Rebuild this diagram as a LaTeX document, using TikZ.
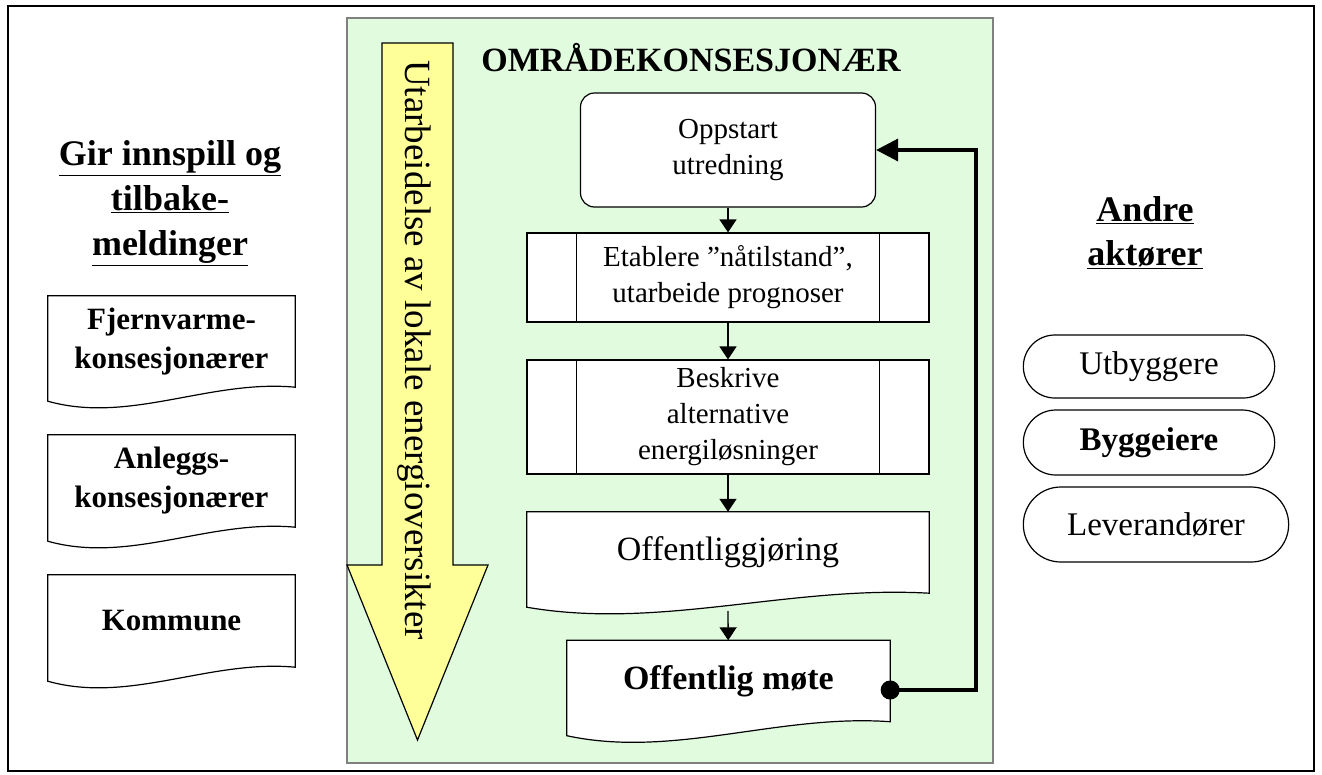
\documentclass[tikz,border=0pt]{standalone}
\usepackage{fontspec}
\setmainfont{Liberation Serif}
\usetikzlibrary{arrows.meta,calc,shapes.misc}

\definecolor{panelgreen}{HTML}{E1FBDF}
\definecolor{arrowyellow}{HTML}{FFFF99}

\pgfdeclarelayer{back}
\pgfdeclarelayer{mid}
\pgfsetlayers{back,mid,main}

% outline of a document shape round a named node
\newcommand{\docwave}[1]{%
  \begin{pgfonlayer}{mid}
    \draw[docline] (#1.south east) -- (#1.north east) -- (#1.north west) -- ($(#1.south west)+(0,14)$)
      .. controls ($(#1.south west)!0.33!(#1.south east)+(0,37)$) and ($(#1.south west)!0.654!(#1.south east)+(0,-8)$) .. cycle;
  \end{pgfonlayer}}

\begin{document}
\begin{tikzpicture}[x=1pt, y=-1pt,
    startbox/.style={rectangle, draw, fill=white, line width=1.2pt, rounded corners=14pt, minimum width=295pt, minimum height=114pt, align=center, font=\fontsize{29}{36}\selectfont},
    procbox/.style={rectangle, draw, fill=white, line width=1.2pt, minimum width=402pt, align=center, font=\fontsize{29}{36}\selectfont},
    docbox/.style={rectangle, inner sep=0pt, align=center},
    docline/.style={draw, fill=white, line width=1.2pt},
    actor/.style={rounded rectangle, draw, fill=white, line width=1.2pt, minimum width=258pt, font=\fontsize{33}{40}\selectfont},
    heading/.style={align=center, font=\bfseries\fontsize{36}{45}\selectfont},
    flow/.style={-{Triangle[width=17pt,length=13pt]}, line width=1.3pt},
    feedback/.style={{Circle[length=19pt]}-{Triangle[width=22pt,length=22pt]}, line width=3.5pt, shorten <=-9.5pt}
]
    \useasboundingbox (0,0) rectangle (1322,774);
    \draw[line width=2pt] (8,6) rectangle (1314,771);

    % Green panel and yellow arrow
    \begin{pgfonlayer}{back}
        \draw[fill=panelgreen, draw=gray, line width=1.2pt] (347,18) rectangle (993,763);
        \draw[fill=arrowyellow, line width=1.2pt] (382,43) -- (453,43) -- (453,565) -- (488,565)
            -- (417.5,740) -- (347,565) -- (382,565) -- cycle;
    \end{pgfonlayer}
    \node[rotate=-90, font=\fontsize{37}{40}\selectfont] (overview) at (414,350) {Utarbeidelse av lokale energioversikter};
    \node[font=\bfseries\fontsize{34}{40}\selectfont] (title) at (691,58) {OMRÅDEKONSESJONÆR};

    % Flow chart
    \node[startbox] (oppstart) at (728,150) {Oppstart\\utredning};
    \node[procbox, minimum height=89pt] (etablere) at (728,277.5) {Etablere ”nåtilstand”,\\utarbeide prognoser};
    \node[procbox, minimum height=114pt] (beskrive) at (728,417) {Beskrive\\alternative\\energiløsninger};
    \node[docbox, minimum width=402pt, minimum height=81pt, font=\fontsize{34}{40}\selectfont] (offentlig) at (728,552.5) {Offentliggjøring};
    \node[docbox, minimum width=323pt, minimum height=81pt, font=\bfseries\fontsize{34}{40}\selectfont] (mote) at (728.5,681) {Offentlig møte};
    \docwave{offentlig}
    \docwave{mote}
    \foreach \n in {etablere, beskrive} {
        \draw[line width=1.2pt] ([xshift=50pt]\n.north west) -- ([xshift=50pt]\n.south west);
        \draw[line width=1.2pt] ([xshift=-50pt]\n.north east) -- ([xshift=-50pt]\n.south east);
    }

    \draw[flow] (oppstart) -- (etablere);
    \draw[flow] (etablere) -- (beskrive);
    \draw[flow] (beskrive) -- (offentlig);
    \draw[flow] ($(offentlig.south)+(0,18)$) -- (mote);
    \draw[feedback] ([yshift=-9pt]mote.east) -| ($(oppstart.east)+(100,0)$) -- (oppstart.east);

    % Left column
    \node[heading] (innspill) at (170,203) {\underline{Gir innspill og}\\\underline{tilbake-}\\\underline{meldinger}};
    \node[docbox, minimum width=247pt, minimum height=91pt, font=\bfseries\fontsize{31}{39}\selectfont] (fjern) at (171.5,341.5) {Fjernvarme-\\konsesjonærer};
    \node[docbox, minimum width=247pt, minimum height=92pt, font=\bfseries\fontsize{31}{39}\selectfont] (anlegg) at (171.5,481) {Anleggs-\\konsesjonærer};
    \node[docbox, minimum width=247pt, minimum height=92pt, font=\bfseries\fontsize{31}{39}\selectfont] (kommune) at (171.5,621) {Kommune};
    \docwave{fjern}
    \docwave{anlegg}
    \docwave{kommune}

    % Right column
    \node[heading, font=\bfseries\fontsize{36}{44}\selectfont] (andre) at (1145,233) {\underline{Andre}\\\underline{aktører}};
    \node[actor, minimum height=63pt] (utbyggere) at (1149,366.5) {Utbyggere};
    \node[actor, minimum height=65pt, font=\bfseries\fontsize{33}{40}\selectfont] (byggeiere) at (1149,442.5) {Byggeiere};
    \node[actor, minimum width=272pt, minimum height=75pt] (leverandorer) at (1156,524.5) {Leverandører};
\end{tikzpicture}
\end{document}
